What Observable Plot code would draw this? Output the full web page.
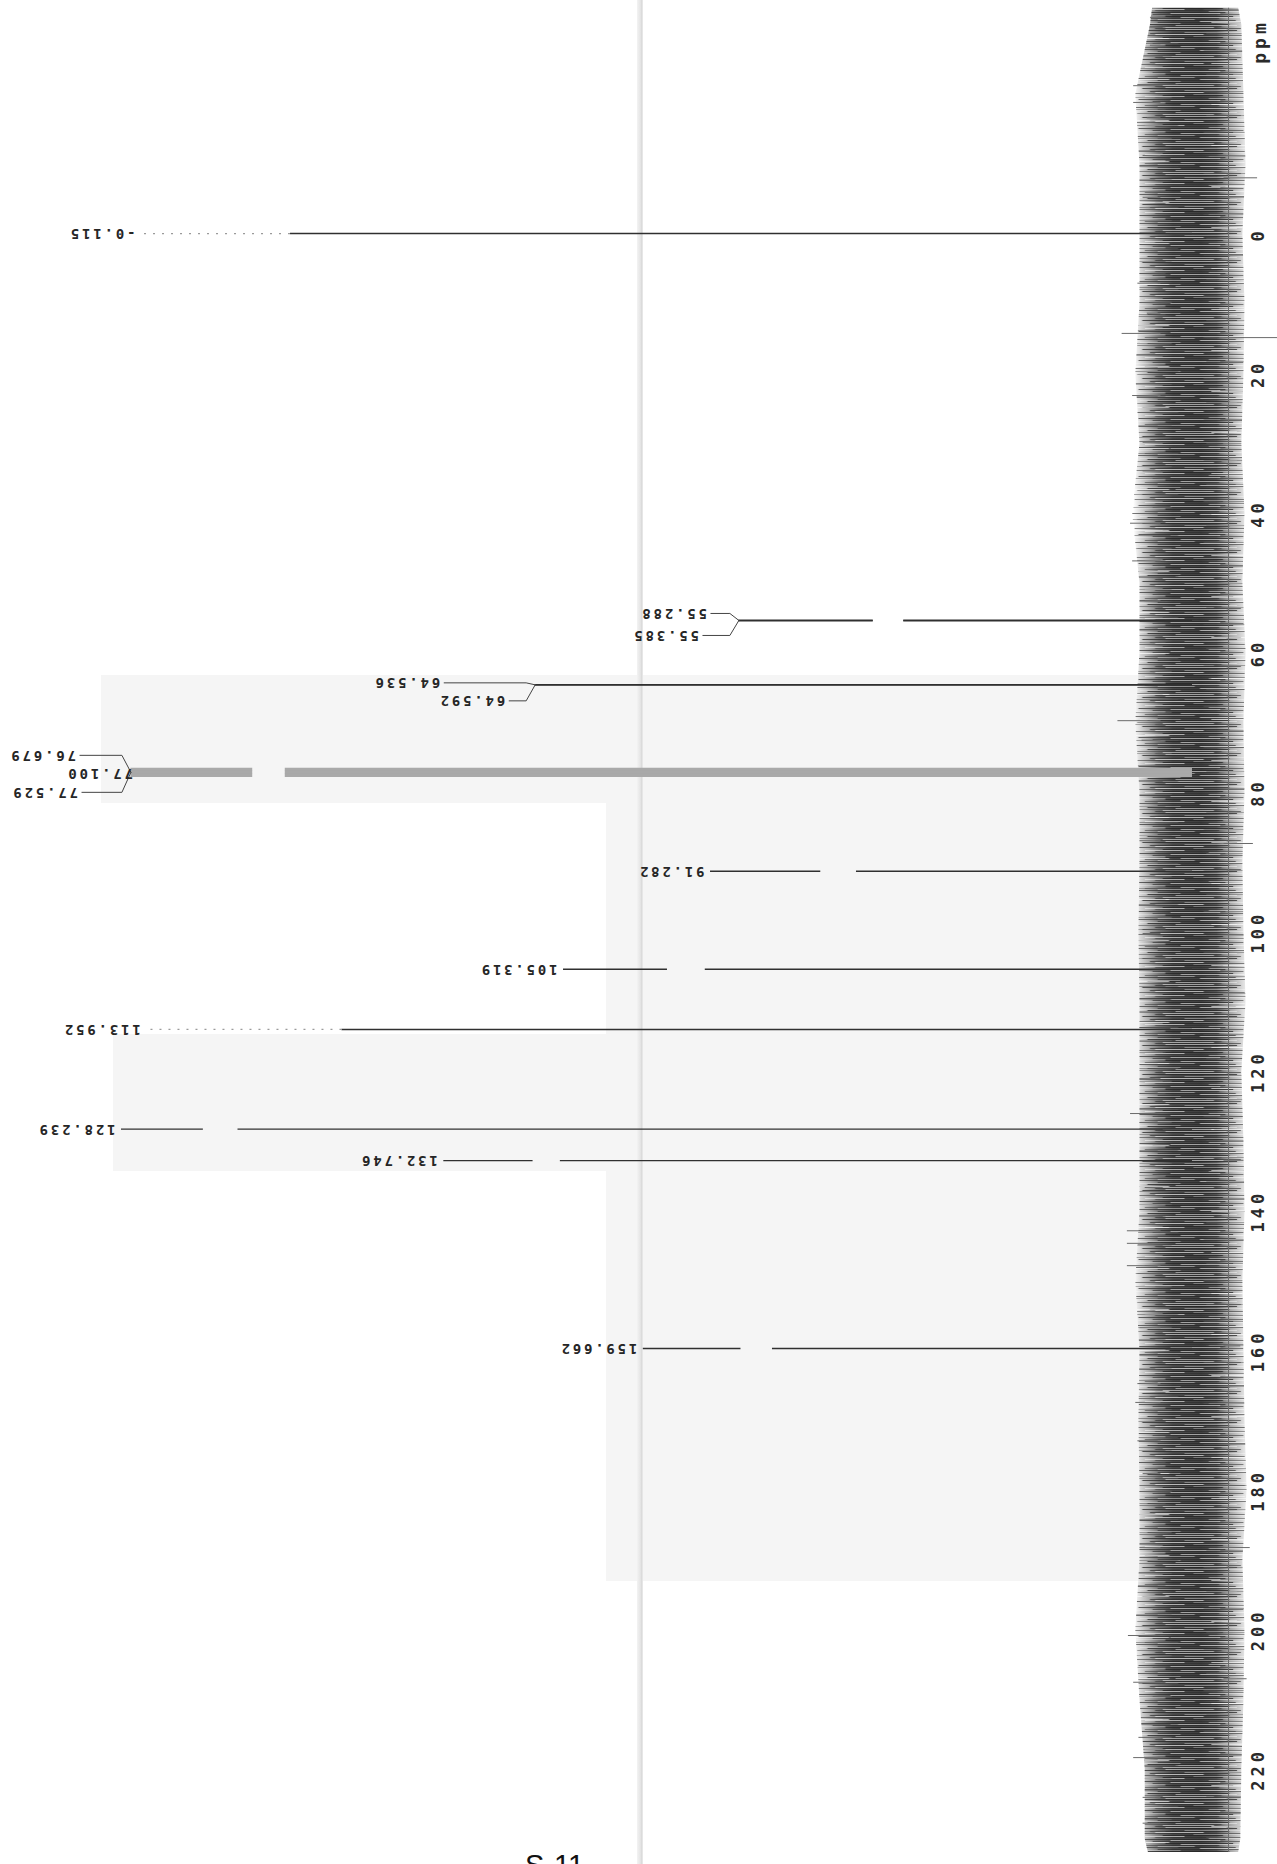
<!DOCTYPE html>
<html>
<head>
<meta charset="utf-8">
<script src="https://cdn.jsdelivr.net/npm/d3@7"></script>
<script src="https://cdn.jsdelivr.net/npm/@observablehq/plot@0.6"></script>
<style>
  html, body { margin: 0; padding: 0; background: #fff; }
  #page { position: relative; width: 1277px; height: 1864px; overflow: hidden; background: #fff; }
  .shade { position: absolute; background: #f5f5f5; }
  #fold { position: absolute; top: 0; left: 637px; width: 6px; height: 1864px;
          background: linear-gradient(to right, #f3f3f3, #e4e4e4 60%, #d8d8d8 80%, #f0f0f0); }
  #chart { position: absolute; left: 0; top: 0; }
  #sample { position: absolute; left: 525px; top: 1851px; font: 29px/1 "Liberation Sans", Arial, sans-serif; color: #111; }
</style>
</head>
<body>
<div id="page">
  <div class="shade" style="left:101px;top:675px;width:1040px;height:128px"></div>
  <div class="shade" style="left:606px;top:803px;width:535px;height:778px"></div>
  <div class="shade" style="left:113px;top:1034px;width:493px;height:137px"></div>
  <div id="fold"></div>
  <div id="chart"></div>
  <div id="sample">S-11</div>
</div>
<script>
// ---- 13C NMR peak list (ppm) and printed peak heights (arbitrary intensity units) ----
const peakPpm      = [-0.115, 55.288, 55.385, 64.536, 64.592, 76.679, 77.100, 77.529, 91.282, 105.319, 113.952, 128.239, 132.746, 159.662];
const peakLabel    = ["-0.115", "55.288", "55.385", "64.536", "64.592", "76.679", "77.100", "77.529", "91.282", "105.319", "113.952", "128.239", "132.746", "159.662"];
const peakKind     = ["ref", "sample", "sample", "sample", "sample", "solvent", "solvent", "solvent", "sample", "sample", "sample", "sample", "sample", "sample"];
const peakHeight   = [100.1, 43.2, 43.2, 62.6, 62.6, 101.1, 101.1, 101.1, 45.9, 59.9, 99.6, 102.0, 71.3, 52.3];
// breaks in the printed trace (intensity units)
const peakGapStart = [null, 27.5, 27.5, null, null, 86.4, 86.4, 86.4, 32.0, 46.4, null, 90.9, 60.2, 40.0];
const peakGapEnd   = [null, 30.4, 30.4, null, null, 89.5, 89.5, 89.5, 35.4, 50.0, null, 94.2, 62.8, 43.0];
// where the trace fades to a dotted line before its tip
const peakSolidEnd = [85.9, null, null, null, null, null, null, null, null, null, 81.0, null, null, null];

// ---- baseline noise envelope ----
const noisePpm  = [-32.4, -30, -20, -10, 0, 10, 20, 30, 40, 50, 60, 70, 80, 90, 100, 110, 120, 130, 140, 150, 160, 170, 180, 190, 200, 210, 220, 230, 231.9];
const haloLeft  = [3.8, 4.0, 5.4, 5.0, 5.0, 5.0, 5.4, 5.0, 5.7, 5.0, 5.0, 5.4, 5.0, 5.0, 5.1, 5.0, 5.0, 5.0, 5.0, 5.4, 5.0, 5.1, 5.0, 5.0, 5.4, 5.0, 4.5, 4.5, 4.2];
const haloRight = [-4.4, -4.7, -4.9, -5.1, -4.8, -5.0, -4.9, -4.7, -5.0, -4.8, -5.1, -4.9, -5.0, -4.8, -4.9, -5.1, -4.7, -4.9, -5.0, -4.8, -4.9, -5.0, -5.2, -4.8, -5.0, -4.9, -4.7, -4.6, -4.4];

// isolated noise spikes that stand out of the band
const spikePpm   = [-31.1, -27.1, -21.3, -18.9, -16.7, -11.3, -5.3, 7.0, 11.3, 14.2, 23.1, 29.8, 33.9, 41.4, 46.8, 52.5, 69.7, 72.5, 86.9, 100.2, 121.0, 126.0, 136.6, 142.8, 144.6, 147.8, 156.7, 164.7, 167.4, 172.9, 177.6, 188.2, 200.8, 207.5, 215.4, 218.3, 224.0, 227.7,
                    -8.1, 14.8, 87.3, 132.7, 159.3, 188.2, 207.0];
const spikeValue = [4.0, 4.0, 5.6, 5.6, 4.3, 4.7, 4.7, 5.2, 4.3, 6.7, 5.7, 4.7, 4.7, 5.9, 5.7, 4.5, 7.1, 4.8, 5.0, 4.7, 5.0, 5.9, 4.5, 6.2, 6.2, 6.2, 5.0, 5.2, 5.4, 5.2, 4.7, 5.0, 6.1, 5.6, 5.1, 5.6, 4.7, 4.7,
                    -6.2, -8.1, -5.8, -4.9, -4.6, -5.5, -5.2];

// ---- axis ----
const ppmTicks = [0, 20, 40, 60, 80, 100, 120, 140, 160, 180, 200, 220];
const spectrumRange = [-32.4, 231.9];

// ---- geometry ----
const W = 1277, H = 1864;
const axisGap = 49;                       // room right of the ppm axis line for its labels
const xDomain = [113.52, -3.43];          // intensity grows to the left
const yDomain = [-33.51, 233.62];         // ppm grows downward
const pxPerPpm = H / (yDomain[1] - yDomain[0]);
const pxPerUnit = (W - axisGap) / (xDomain[0] - xDomain[1]);

const noise = noisePpm.map((ppm, i) => ({ppm, hl: haloLeft[i], hr: haloRight[i]}));
const spikes = spikePpm.map((ppm, i) => ({ppm, value: spikeValue[i], base: spikeValue[i] > 0 ? 3 : -3}));

// trace segments of each peak line
const segments = [], dotted = [];
peakPpm.forEach((ppm, i) => {
  const top = peakSolidEnd[i] ?? peakHeight[i];
  const kind = peakKind[i];
  if (peakGapStart[i] != null) {
    segments.push({ppm, from: 0, to: peakGapStart[i], kind});
    segments.push({ppm, from: peakGapEnd[i], to: top, kind});
  } else {
    segments.push({ppm, from: 0, to: top, kind});
  }
  if (peakSolidEnd[i] != null) dotted.push({ppm, from: top, to: peakHeight[i]});
});

// label layout for crowded peaks: [pixels left of the tip, pixels below the line]
const clusterLayout = {
  "55.288": [32, -7], "55.385": [40, 15],
  "64.536": [95, -2], "64.592": [30, 16],
  "76.679": [55, -17], "77.100": [-2, 1], "77.529": [53, 20]
};
const groups = [];
peakPpm.forEach((ppm, i) => {
  const g = groups[groups.length - 1];
  if (g && ppm - peakPpm[g[g.length - 1]] < 1) g.push(i); else groups.push([i]);
});
const labels = [], leaders = [];
groups.forEach((g, gi) => {
  const tip = d3.max(g, i => peakHeight[i]);
  const mid = d3.mean(g, i => peakPpm[i]);
  g.forEach((i, k) => {
    const [push, off] = g.length === 1 ? [6, 0] : clusterLayout[peakLabel[i]];
    const lp = mid + off / pxPerPpm;
    labels.push({text: peakLabel[i], ppm: g.length === 1 ? peakPpm[i] : lp, x: tip + push / pxPerUnit});
    if (g.length > 1 && push > 10) {
      const id = `${gi}-${k}`;
      leaders.push({id, x: tip, ppm: mid});
      leaders.push({id, x: tip + 9 / pxPerUnit, ppm: lp});
      leaders.push({id, x: tip + (push - 4) / pxPerUnit, ppm: lp});
    }
  });
});

const chart = Plot.plot({
  width: W,
  height: H,
  marginLeft: 0,
  marginRight: axisGap,
  marginTop: 0,
  marginBottom: 0,
  style: {background: "transparent"},
  x: {domain: xDomain, axis: null},
  y: {domain: yDomain, range: [0, H], axis: null},
  marks: [
    // noise band: dark centre fading out, with horizontal streaks on top
    Plot.areaX(noise, {y: "ppm", x1: "hl", x2: "hr", fill: "url(#band)"}),
    Plot.areaX(noise, {y: "ppm", x1: "hl", x2: "hr", fill: "url(#streak)"}),
    Plot.areaX(noise, {y: "ppm", x1: "hl", x2: "hr", fill: "url(#streak2)"}),
    Plot.ruleY(spikes, {y: "ppm", x1: "base", x2: "value", stroke: "#6a6a6a", strokeWidth: 1}),
    // ppm axis line
    Plot.ruleX([xDomain[1]], {y1: spectrumRange[0], y2: spectrumRange[1], stroke: "#6e6e6e", strokeWidth: 1}),
    // peaks
    Plot.ruleY(segments.filter(d => d.kind === "solvent"), {y: "ppm", x1: "from", x2: "to", stroke: "#a9a9a9", strokeWidth: 3.2}),
    Plot.ruleY(segments.filter(d => d.kind !== "solvent"), {y: "ppm", x1: "from", x2: "to", stroke: "#303030", strokeWidth: 1.4}),
    Plot.ruleY(dotted, {y: "ppm", x1: "from", x2: "to", stroke: "#9a9a9a", strokeWidth: 1.2, strokeDasharray: "2,7"}),
    Plot.line(leaders, {x: "x", y: "ppm", z: "id", stroke: "#444", strokeWidth: 1, curve: "linear"}),
    Plot.text(labels, {x: "x", y: "ppm", text: "text", rotate: 180, textAnchor: "start", lineAnchor: "middle",
      fontFamily: "DejaVu Sans Mono", fontWeight: "bold", fontSize: 14, fill: "#262626"}),
    // ppm tick labels and unit
    Plot.text(ppmTicks, {y: d => d, text: d => String(d), frameAnchor: "right", dx: 30, rotate: -90,
      textAnchor: "middle", lineAnchor: "middle", fontFamily: "DejaVu Sans Mono", fontWeight: "bold", fontSize: 17, fill: "#2a2a2a"}),
    Plot.text(["ppm"], {frameAnchor: "top-right", dx: 32, dy: 41, rotate: -90, textAnchor: "middle", lineAnchor: "middle",
      fontFamily: "DejaVu Sans Mono", fontWeight: "bold", fontSize: 18, fill: "#2a2a2a"})
  ]
});

// fills for the noise band
const defs = d3.select(chart).insert("defs", ":first-child");
const scaleX = v => (W - axisGap) * (xDomain[0] - v) / (xDomain[0] - xDomain[1]);
const bandLeft = scaleX(6.2), bandRight = scaleX(-6.0);
const grad = defs.append("linearGradient").attr("id", "band").attr("gradientUnits", "userSpaceOnUse")
  .attr("x1", bandLeft).attr("x2", bandRight).attr("y1", 0).attr("y2", 0);
[[0.05, "#ffffff"], [0.14, "#c2c2c2"], [0.25, "#747474"], [0.36, "#4a4a4a"], [0.58, "#404040"],
 [0.70, "#565656"], [0.78, "#969696"], [0.88, "#cfcfcf"], [0.97, "#ffffff"]]
  .forEach(([o, c]) => grad.append("stop").attr("offset", o).attr("stop-color", c));

// one tile spans the band, so streaks of different reach give a ragged texture
function streakTile(id, h, rows) {
  const w = bandRight - bandLeft;
  const p = defs.append("pattern").attr("id", id).attr("patternUnits", "userSpaceOnUse")
    .attr("x", bandLeft).attr("y", 0).attr("width", w).attr("height", h);
  rows.forEach(([y, a, b, c]) => p.append("rect").attr("x", a * w).attr("y", y).attr("width", (b - a) * w).attr("height", 1).attr("fill", c));
}
streakTile("streak", 29, [
  [0, 0.30, 0.78, "rgba(255,255,255,0.50)"], [1, 0.12, 0.86, "rgba(30,30,30,0.70)"], [3, 0.45, 0.95, "rgba(255,255,255,0.35)"],
  [4, 0.18, 0.80, "rgba(30,30,30,0.60)"], [5, 0.22, 0.60, "rgba(255,255,255,0.60)"], [6, 0.06, 0.92, "rgba(30,30,30,0.50)"],
  [7, 0.52, 1.00, "rgba(255,255,255,0.30)"], [8, 0.28, 0.75, "rgba(30,30,30,0.70)"], [9, 0.14, 0.45, "rgba(255,255,255,0.55)"],
  [10, 0.22, 0.97, "rgba(30,30,30,0.40)"], [11, 0.64, 1.00, "rgba(255,255,255,0.40)"], [12, 0.09, 0.77, "rgba(30,30,30,0.65)"],
  [13, 0.34, 0.73, "rgba(255,255,255,0.50)"], [14, 0.20, 0.91, "rgba(30,30,30,0.50)"], [15, 0.06, 0.30, "rgba(255,255,255,0.30)"],
  [16, 0.30, 0.83, "rgba(30,30,30,0.70)"], [17, 0.42, 0.92, "rgba(255,255,255,0.50)"], [18, 0.14, 0.72, "rgba(30,30,30,0.45)"],
  [19, 0.24, 0.53, "rgba(255,255,255,0.40)"], [20, 0.04, 0.85, "rgba(30,30,30,0.60)"], [21, 0.57, 0.98, "rgba(255,255,255,0.55)"],
  [22, 0.24, 0.94, "rgba(30,30,30,0.50)"], [23, 0.10, 0.42, "rgba(255,255,255,0.35)"], [24, 0.16, 0.80, "rgba(30,30,30,0.70)"],
  [25, 0.38, 0.86, "rgba(255,255,255,0.45)"], [26, 0.08, 0.74, "rgba(30,30,30,0.40)"], [27, 0.28, 0.68, "rgba(255,255,255,0.50)"],
  [28, 0.22, 0.89, "rgba(30,30,30,0.55)"]
]);
streakTile("streak2", 41, [
  [2, 0.02, 0.40, "rgba(90,90,90,0.55)"], [9, 0.60, 0.99, "rgba(90,90,90,0.50)"], [15, 0.05, 0.35, "rgba(110,110,110,0.50)"],
  [22, 0.66, 0.97, "rgba(255,255,255,0.60)"], [27, 0.01, 0.30, "rgba(90,90,90,0.50)"], [33, 0.62, 1.00, "rgba(90,90,90,0.45)"],
  [38, 0.03, 0.33, "rgba(255,255,255,0.60)"]
]);

// printer-style spacing for the text marks
chart.querySelectorAll('g[font-size="14"]').forEach(g => g.setAttribute("letter-spacing", "2.8"));
chart.querySelectorAll('g[font-size="17"], g[font-size="18"]').forEach(g => g.setAttribute("letter-spacing", "4"));

document.getElementById("chart").appendChild(chart);
</script>
</body>
</html>
